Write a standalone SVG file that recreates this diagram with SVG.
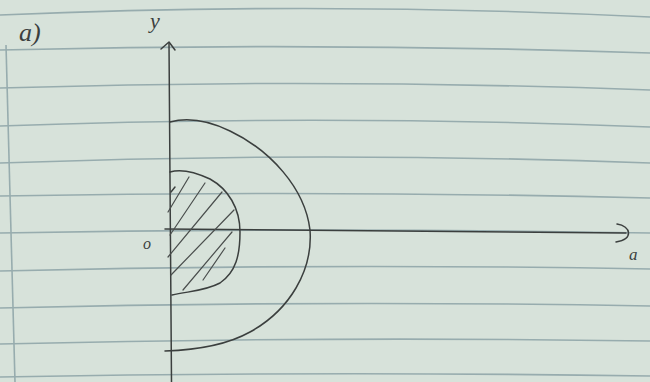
<svg xmlns="http://www.w3.org/2000/svg" width="650" height="382" viewBox="0 0 650 382">
<style>
.rule{fill:none;stroke:#97acae;stroke-width:1.6}
.ink{fill:none;stroke:#3b3f3e;stroke-width:1.5;stroke-linecap:round;stroke-linejoin:round}
.hatch{fill:none;stroke:#4a4e4d;stroke-width:1.2;stroke-linecap:round}
.lbl{font-family:"Liberation Serif",serif;font-style:italic;fill:#3b3f3e}
</style>
<rect x="0" y="0" width="650" height="382" fill="#d7e2da"/>
<g id="paper">
<path class="rule" d="M0,15 Q325,1 650,17"/>
<path class="rule" d="M0,50 Q325,42 650,53"/>
<path class="rule" d="M0,88 Q325,78 650,90"/>
<path class="rule" d="M0,126 Q325,114 650,127"/>
<path class="rule" d="M0,163 Q325,151 650,163"/>
<path class="rule" d="M0,196 Q325,190 650,198"/>
<path class="rule" d="M0,233 Q325,227 650,233"/>
<path class="rule" d="M0,271 Q325,263 650,269"/>
<path class="rule" d="M0,308 Q325,300 650,306"/>
<path class="rule" d="M0,344 Q325,336 650,341"/>
<path class="rule" d="M0,377 Q325,371 650,376"/>
<path class="rule" d="M6,45 L15,382" stroke-width="1.3"/>
</g>
<g id="axes">
<path class="ink" d="M171.5,382 L169,43"/>
<path class="ink" d="M161,49 L169,42 L175,50"/>
<path class="ink" d="M165,229 L626,233"/>
<path class="ink" d="M617,224 C631,226 634,239 616,242"/>
</g>
<g id="outer-curve">
<path class="ink" d="M170,122 C185,118 205,119 230,131 C270,150 305,188 310,230 C313,270 290,310 250,332 C225,346 195,350 165,351"/>
</g>
<g id="inner-region">
<path class="ink" d="M170,172 C180,169 195,172 210,179 C228,189 240,208 240,232 C240,255 236,272 220,283 C205,291 190,291 172,295"/>
<path class="ink" d="M171,192 L175,187" stroke-width="2.4"/>
<path class="hatch" d="M168,212 L189,177"/>
<path class="hatch" d="M170,235 L205,183"/>
<path class="hatch" d="M168,257 L222,192"/>
<path class="hatch" d="M171,275 L234,210"/>
<path class="hatch" d="M183,290 L232,232"/>
<path class="hatch" d="M203,280 L225,248"/>
</g>
<g id="labels">
<text class="lbl" x="19" y="41" font-size="26">a)</text>
<text class="lbl" x="150" y="28" font-size="22">y</text>
<text class="lbl" x="143" y="249" font-size="16">o</text>
<text class="lbl" x="629" y="260" font-size="17">a</text>
</g>
</svg>
